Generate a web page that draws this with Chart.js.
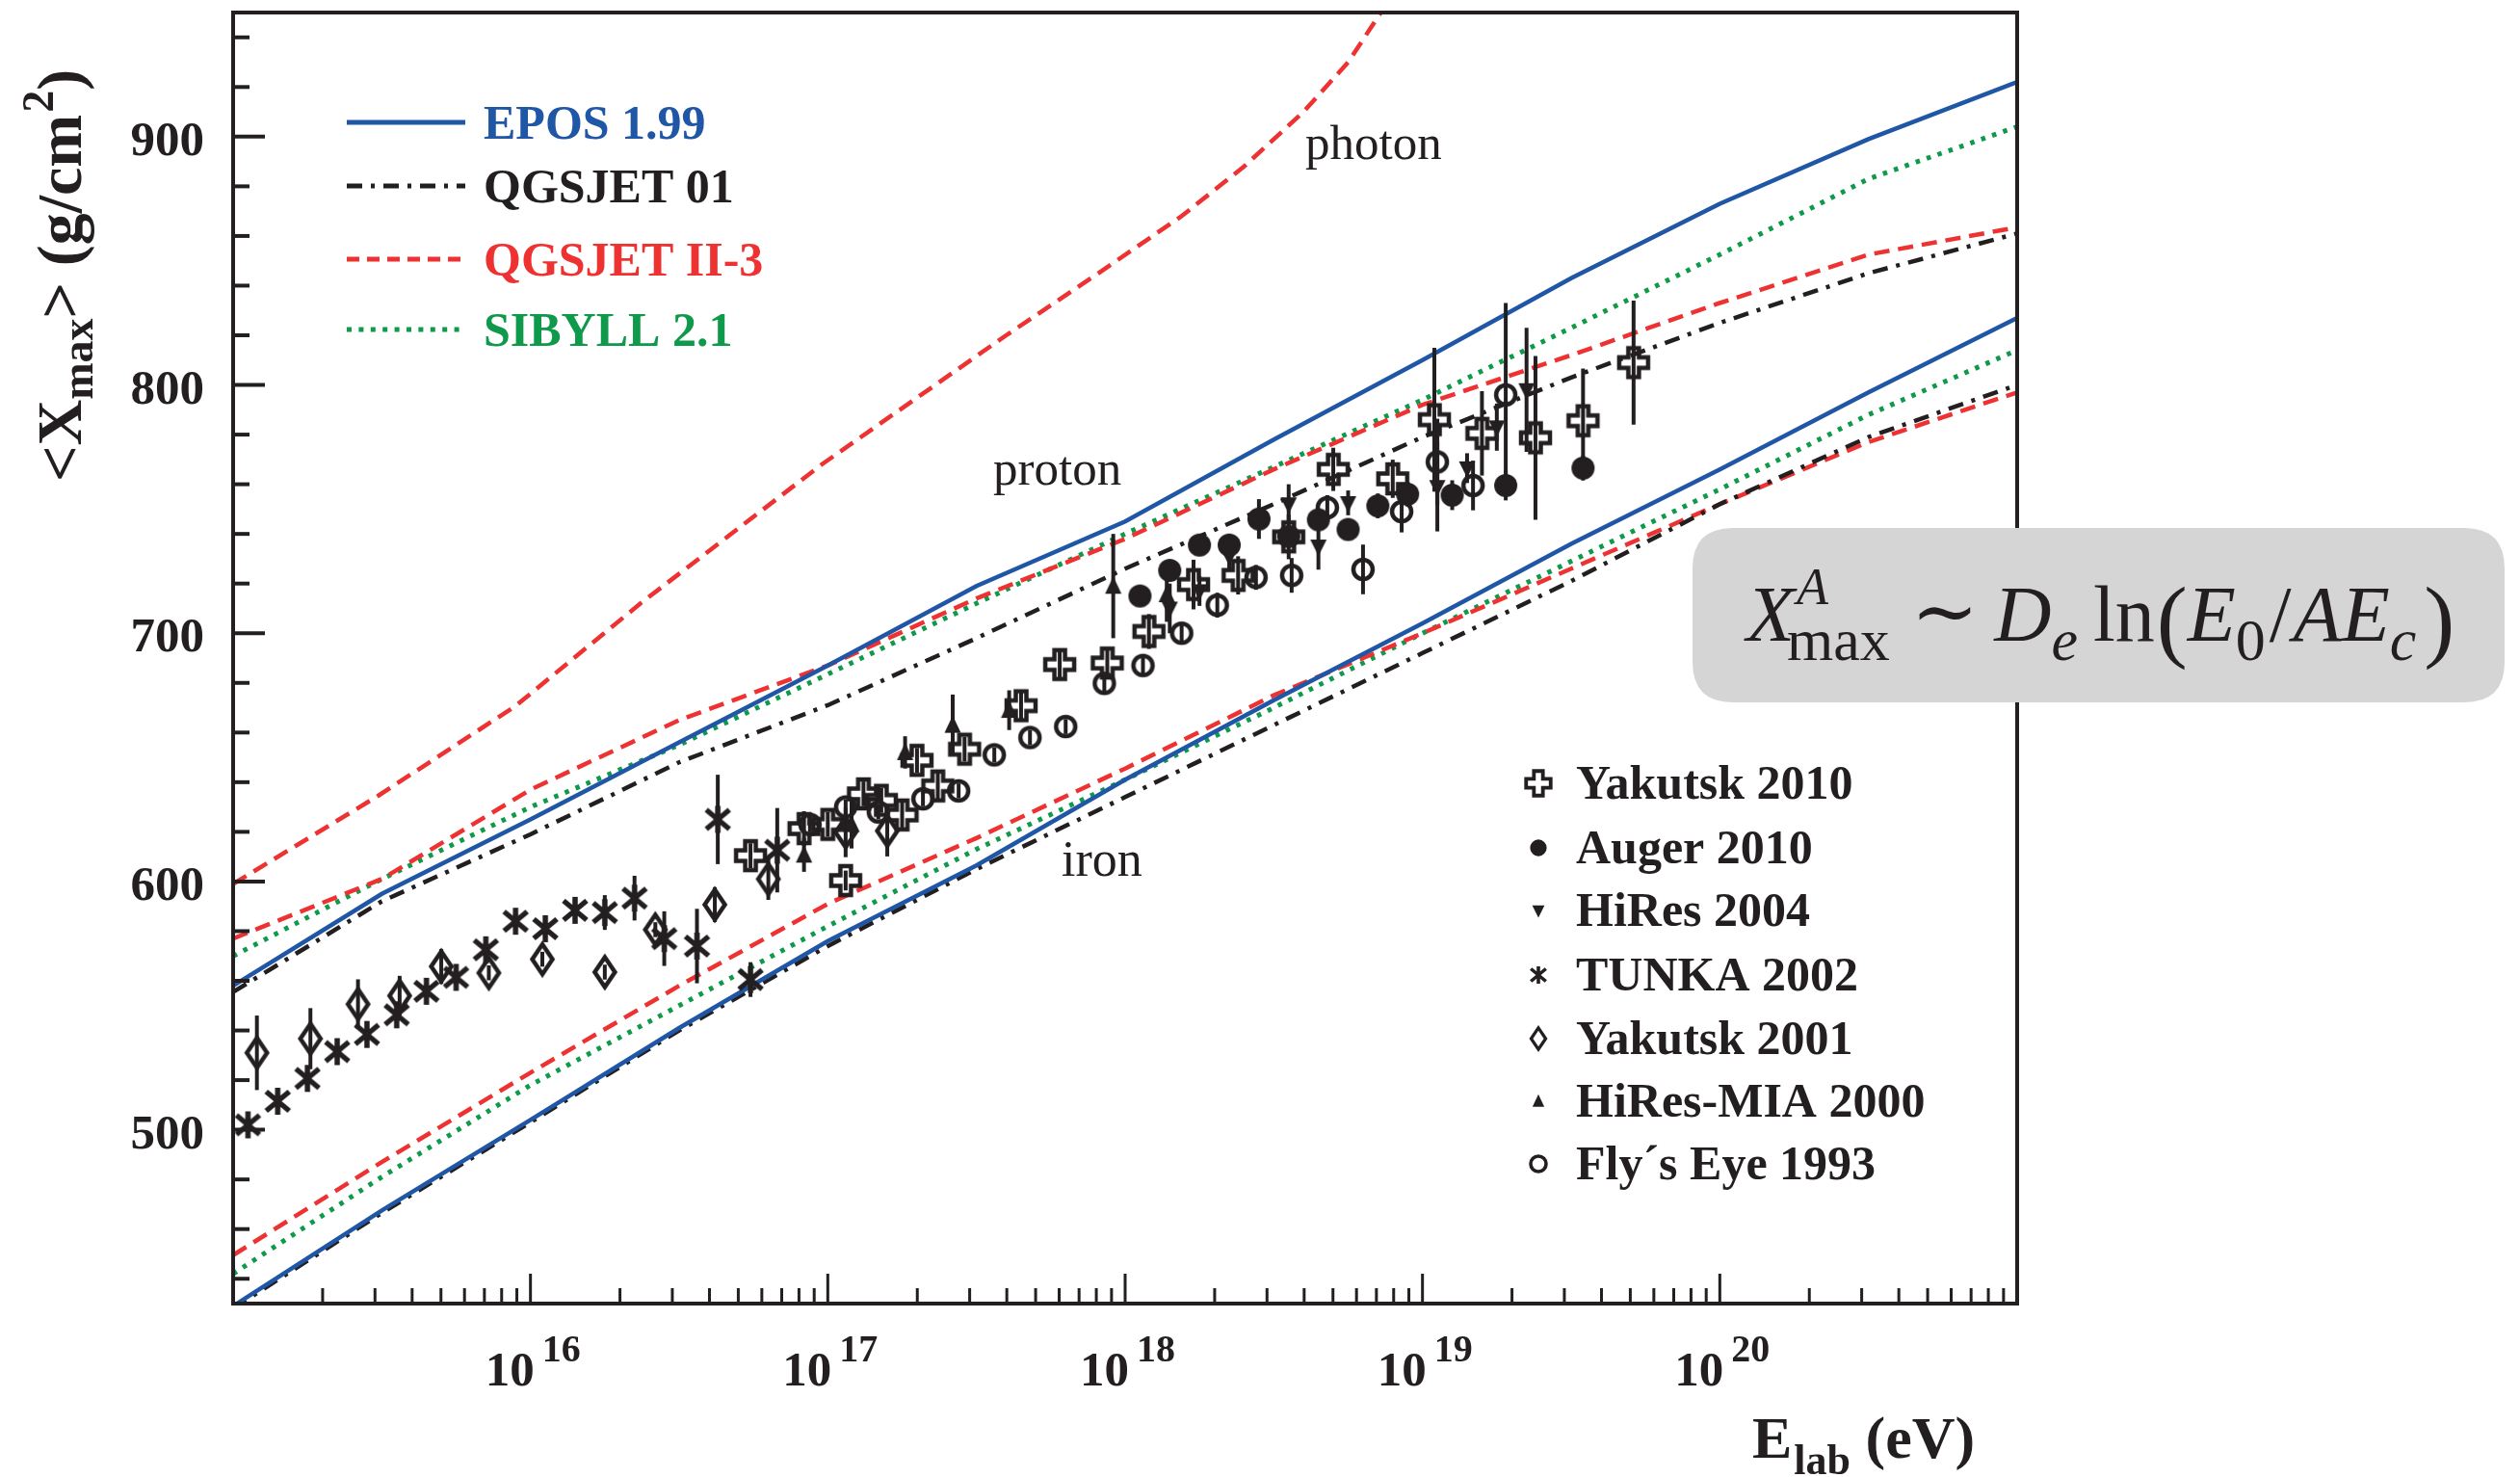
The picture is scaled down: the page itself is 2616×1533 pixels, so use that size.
<!DOCTYPE html>
<html>
<head>
<meta charset="utf-8">
<script src="https://cdn.jsdelivr.net/npm/chart.js@4.4.1/dist/chart.umd.min.js"></script>
<style>
  html, body { margin: 0; padding: 0; background: #ffffff; overflow: hidden; }
  #wrap { width: 2616px; height: 1533px; position: relative; }
</style>
</head>
<body>
<div id="wrap"><canvas id="c" width="2616" height="1533"></canvas></div>
<script>
// ---- model predictions: lg = log10(E_lab / eV), <Xmax> in g/cm^2 ----
const curveLg   = [15, 15.5, 16, 16.5, 17, 17.5, 18, 18.5, 19, 19.5, 20, 20.5, 21];
const eposP     = [558, 595, 625, 656, 687, 719, 745, 778, 810, 843, 873, 899, 922];
const eposFe    = [429, 467.5, 504, 541, 576, 606.5, 641, 673, 704, 736, 766, 797, 827];
const qgs01P    = [555.5, 592, 619, 648, 671, 698, 726, 752, 779, 803, 825, 845, 861];
const qgs01Fe   = [428, 466.5, 503, 540, 574, 605, 634, 663, 692, 721, 752, 779, 800];
const qgs2P     = [577, 601, 637, 665, 687, 714, 738, 766, 792, 812, 833, 852.5, 863.5];
const qgs2Fe    = [449.5, 487, 523, 558, 591, 617.5, 645.5, 675, 700, 726, 752, 777, 797];
const sibP      = [570, 601, 630, 655, 683.5, 712, 740, 767, 794, 823, 852.5, 883, 904];
const sibFe     = [442, 481, 518, 550, 582, 613, 641, 670, 700, 729, 758, 788, 814];
const photonLg  = [15, 15.49, 15.95, 16.37, 16.98, 17.6, 17.91, 18.19, 18.4, 18.6, 18.75, 18.86, 19.0];
const photonX   = [599, 634.7, 670.7, 712, 768, 820, 845, 868, 888, 910, 930, 950, 978];

// ---- measurements ----
const yak10Lg  = [16.74, 16.92, 17.00, 17.06, 17.12, 17.18, 17.25, 17.30, 17.37, 17.46, 17.65, 17.78, 17.94, 18.08, 18.23, 18.38, 18.55, 18.70, 18.90, 19.04, 19.20, 19.38, 19.54, 19.71];
const yak10X   = [610.4, 621.3, 623, 600.4, 635.3, 632.7, 626.8, 648.8, 638.5, 653.3, 670.8, 687.4, 688, 700.7, 719.6, 723.3, 738.8, 766, 762.2, 786, 780.5, 778.7, 785.6, 809];
const yak10Err = [5, 7, 5, 4, 5, 5, 6, 5, 6, 5, 6, 6, 6, 7, 10, 7.7, 9, 8.7, 7.7, 29, 17, 33, 21, 25];

const augerLg  = [18.05, 18.15, 18.25, 18.35, 18.45, 18.55, 18.65, 18.75, 18.85, 18.95, 19.10, 19.28, 19.54];
const augerX   = [715, 725.3, 735.5, 735.5, 746, 739, 745.7, 741.8, 751.3, 756, 755.6, 759.5, 766.5];
const augerErr = [3, 4, 4, 4, 8, 4, 4, 4, 5, 5, 6, 6, 5];

const hiresLg  = [18.15, 18.25, 18.35, 18.55, 18.65, 18.75, 19.05, 19.15, 19.25, 19.35];
const hiresX   = [710, 717, 731, 752, 735, 752.5, 759, 766.5, 783, 798];
const hiresErr = [10, 6, 6, 8, 9.4, 5, 18, 6, 9.5, 25];

const tunkaLg  = [15.05, 15.15, 15.25, 15.35, 15.45, 15.55, 15.65, 15.75, 15.85, 15.95, 16.05, 16.15, 16.25, 16.35, 16.45, 16.56, 16.63, 16.74, 16.83];
const tunkaX   = [502, 511.5, 520.7, 531.5, 538.4, 546.3, 555.8, 561.4, 572.5, 584, 581, 588.4, 587.5, 593.3, 577, 574, 625, 560.5, 612.6];
const tunkaErr = [3, 3, 3, 3, 3, 3, 3, 3, 3, 3, 4, 4, 7, 9, 11, 15, 18, 7, 17];

const yak01Lg  = [15.08, 15.26, 15.42, 15.56, 15.70, 15.86, 16.04, 16.25, 16.42, 16.62, 16.80, 17.06, 17.20];
const yak01X   = [531, 536.7, 550.6, 554, 565.8, 563.2, 568.7, 563.5, 580.6, 590.7, 601, 619.8, 620.4];
const yak01Err = [15, 12.3, 10, 8, 7, 3, 3, 3, 3, 7, 8.4, 10, 10.3];

const miaLg    = [16.92, 17.08, 17.26, 17.42, 17.61, 17.96, 18.14];
const miaX     = [610.7, 623, 652, 663, 669, 719, 715.6];
const miaErr   = [6.8, 9.7, 6.5, 12.3, 8, 21, 11];

const flyLg    = [16.94, 17.06, 17.17, 17.32, 17.44, 17.56, 17.68, 17.80, 17.93, 18.06, 18.19, 18.31, 18.44, 18.56, 18.68, 18.80, 18.93, 19.05, 19.17, 19.28];
const flyX     = [623, 630, 628, 633.3, 636.5, 651, 658, 662.4, 679.8, 687, 700, 711.3, 722.5, 723.3, 750.6, 725.7, 749, 769, 759.5, 796];
const flyErr   = [3, 3, 3, 3, 3, 3, 3, 3, 4, 4, 4, 5, 5, 7, 5, 10, 8.4, 17.4, 10, 37];

// ---- axis ticks and labels ----
const yMajorTicks = [500, 600, 700, 800, 900];
const xLabelDecades = [16, 17, 18, 19, 20];
const modelNames = ['EPOS 1.99', 'QGSJET 01', 'QGSJET II-3', 'SIBYLL 2.1'];
const dataNames = ['Yakutsk 2010', 'Auger 2010', 'HiRes 2004', 'TUNKA 2002', 'Yakutsk 2001', 'HiRes-MIA 2000', 'Fly\u00b4s Eye 1993'];

// ---- styling ----
const INK = '#231f20', BLUE = '#1f56a5', RED = '#ee3131', GREEN = '#0f994a';
const SERIF = '"Liberation Serif", "Nimbus Roman", "DejaVu Serif", serif';
const DASH_RED = [16, 9], DASH_DOT = [16, 9, 4, 9], DOTS = [4.5, 7.5];

function pts(lg, vals) { return lg.map((l, i) => ({ x: Math.pow(10, l), y: vals[i] })); }

// marker glyphs (open cross, full circle, triangles, star, open diamond, open circle)
function drawMarker(ctx, type, x, y, s) {
  ctx.save();
  ctx.translate(x, y);
  ctx.scale(s, s);
  ctx.strokeStyle = INK; ctx.fillStyle = INK; ctx.lineWidth = 4.5; ctx.lineJoin = 'miter';
  ctx.beginPath();
  switch (type) {
    case 'plus': {
      const a = 15, b = 5.5;
      ctx.moveTo(-b, -a); ctx.lineTo(b, -a); ctx.lineTo(b, -b); ctx.lineTo(a, -b); ctx.lineTo(a, b);
      ctx.lineTo(b, b); ctx.lineTo(b, a); ctx.lineTo(-b, a); ctx.lineTo(-b, b); ctx.lineTo(-a, b);
      ctx.lineTo(-a, -b); ctx.lineTo(-b, -b); ctx.closePath(); ctx.stroke(); break;
    }
    case 'dot': ctx.arc(0, 0, 12, 0, 2 * Math.PI); ctx.fill(); break;
    case 'tdown': ctx.moveTo(-8.5, -7); ctx.lineTo(8.5, -7); ctx.lineTo(0, 10); ctx.closePath(); ctx.fill(); break;
    case 'tup': ctx.moveTo(-8.5, 8); ctx.lineTo(8.5, 8); ctx.lineTo(0, -10); ctx.closePath(); ctx.fill(); break;
    case 'star':
      ctx.lineWidth = 5.5;
      ctx.moveTo(0, -14); ctx.lineTo(0, 14);
      ctx.moveTo(-12, -10); ctx.lineTo(12, 10);
      ctx.moveTo(-12, 10); ctx.lineTo(12, -10);
      ctx.stroke(); break;
    case 'diamond': ctx.moveTo(0, -15.5); ctx.lineTo(10.5, 0); ctx.lineTo(0, 15.5); ctx.lineTo(-10.5, 0); ctx.closePath(); ctx.stroke(); break;
    case 'ocircle': ctx.arc(0, 0, 10, 0, 2 * Math.PI); ctx.stroke(); break;
  }
  ctx.restore();
}
function markerCanvas(type) {
  const c = document.createElement('canvas');
  c.width = 46; c.height = 46;
  drawMarker(c.getContext('2d'), type, 23, 23, 1);
  return c;
}

function curve(lg, vals, color, dash, width) {
  return { data: pts(lg, vals), showLine: true, borderColor: color, borderWidth: width, borderDash: dash,
           pointRadius: 0, fill: false, tension: 0, order: 10 };
}
function measured(name, lg, vals, errs, type) {
  return { label: name, data: pts(lg, vals), errors: errs, showLine: false, pointStyle: markerCanvas(type),
           pointRadius: 12, order: 1 };
}

const datasets = [
  curve(curveLg, eposP, BLUE, [], 4.5),
  curve(curveLg, eposFe, BLUE, [], 4.5),
  curve(curveLg, qgs01P, INK, DASH_DOT, 4.5),
  curve(curveLg, qgs01Fe, INK, DASH_DOT, 4.5),
  curve(curveLg, qgs2P, RED, DASH_RED, 4.5),
  curve(curveLg, qgs2Fe, RED, DASH_RED, 4.5),
  curve(photonLg, photonX, RED, DASH_RED, 4.5),
  curve(curveLg, sibP, GREEN, DOTS, 5),
  curve(curveLg, sibFe, GREEN, DOTS, 5),
  measured(dataNames[6], flyLg, flyX, flyErr, 'ocircle'),
  measured(dataNames[5], miaLg, miaX, miaErr, 'tup'),
  measured(dataNames[4], yak01Lg, yak01X, yak01Err, 'diamond'),
  measured(dataNames[3], tunkaLg, tunkaX, tunkaErr, 'star'),
  measured(dataNames[2], hiresLg, hiresX, hiresErr, 'tdown'),
  measured(dataNames[1], augerLg, augerX, augerErr, 'dot'),
  measured(dataNames[0], yak10Lg, yak10X, yak10Err, 'plus')
];

function text(ctx, s, x, y, font, color, align) {
  ctx.font = font; ctx.fillStyle = color; ctx.textAlign = align || 'left'; ctx.textBaseline = 'alphabetic';
  ctx.fillText(s, x, y);
  return ctx.measureText(s).width;
}

const decorations = {
  id: 'decorations',
  beforeDatasetDraw(chart, args) {
    const ds = chart.data.datasets[args.index];
    if (!ds.errors) return;
    const { ctx, chartArea: a } = chart;
    const y = chart.scales.y;
    ctx.save();
    ctx.beginPath(); ctx.rect(a.left, a.top, a.right - a.left, a.bottom - a.top); ctx.clip();
    ctx.strokeStyle = INK; ctx.lineWidth = 4;
    args.meta.data.forEach((pt, i) => {
      const e = ds.errors[i];
      if (!e) return;
      const v = ds.data[i].y;
      ctx.beginPath();
      ctx.moveTo(pt.x, y.getPixelForValue(v - e));
      ctx.lineTo(pt.x, y.getPixelForValue(v + e));
      ctx.stroke();
    });
    ctx.restore();
  },
  afterDraw(chart) {
    const { ctx, chartArea: a } = chart;
    const xs = chart.scales.x, ys = chart.scales.y;
    ctx.save();

    // frame
    ctx.strokeStyle = INK; ctx.lineWidth = 4; ctx.setLineDash([]);
    ctx.strokeRect(a.left, a.top, a.right - a.left, a.bottom - a.top);

    // x ticks (inside, log minor ticks)
    ctx.lineWidth = 3;
    for (let d = 15; d <= 20; d++) {
      for (let m = 1; m <= 9; m++) {
        const px = xs.getPixelForValue(m * Math.pow(10, d));
        const len = m === 1 ? 31 : 16;
        ctx.beginPath(); ctx.moveTo(px, a.bottom); ctx.lineTo(px, a.bottom - len); ctx.stroke();
      }
    }
    // y ticks
    ctx.lineWidth = 4;
    for (let v = 440; v <= 940; v += 20) {
      const py = ys.getPixelForValue(v);
      const len = v % 100 === 0 ? 33 : 17;
      ctx.beginPath(); ctx.moveTo(a.left, py); ctx.lineTo(a.left + len, py); ctx.stroke();
    }

    // tick labels
    yMajorTicks.forEach(v => {
      text(ctx, String(v), a.left - 30, ys.getPixelForValue(v) + 19, 'bold 51px ' + SERIF, INK, 'right');
    });
    xLabelDecades.forEach(d => {
      const px = xs.getPixelForValue(Math.pow(10, d));
      text(ctx, '10', px + 4, 1438, 'bold 51px ' + SERIF, INK, 'right');
      text(ctx, String(d), px + 12, 1413, 'bold 40px ' + SERIF, INK, 'left');
    });

    // x axis title
    let tx = 1819;
    tx += text(ctx, 'E', tx, 1513, 'bold 62px ' + SERIF, INK);
    tx += 2;
    tx += text(ctx, 'lab', tx, 1530, 'bold 44px ' + SERIF, INK);
    text(ctx, ' (eV)', tx, 1513, 'bold 62px ' + SERIF, INK);

    // y axis title (rotated)
    ctx.save();
    ctx.translate(84, 500);
    ctx.rotate(-Math.PI / 2);
    let ty = 0;
    ty += text(ctx, '<X', ty, 0, 'bold 66px ' + SERIF, INK);
    ty += text(ctx, 'max', ty, 12, 'bold 46px ' + SERIF, INK);
    ty += text(ctx, '>', ty, 0, 'bold 66px ' + SERIF, INK);
    ty += text(ctx, ' (g/cm', ty, 0, 'bold 66px ' + SERIF, INK);
    ty += text(ctx, '2', ty + 2, -29, 'bold 46px ' + SERIF, INK) + 2;
    text(ctx, ')', ty, 0, 'bold 66px ' + SERIF, INK);
    ctx.restore();

    // model legend
    const modelColors = [BLUE, INK, RED, GREEN];
    const modelDash = [[], DASH_DOT, [13, 8], [5, 7.4]];
    const modelRowY = [127, 193, 269, 342];
    modelNames.forEach((n, i) => {
      ctx.strokeStyle = modelColors[i]; ctx.lineWidth = 5; ctx.setLineDash(modelDash[i]);
      ctx.beginPath(); ctx.moveTo(360, modelRowY[i]); ctx.lineTo(483, modelRowY[i]); ctx.stroke();
      ctx.setLineDash([]);
      text(ctx, n, 502, modelRowY[i] + 17, 'bold 50px ' + SERIF, modelColors[i]);
    });

    // data legend
    const legendTypes = ['plus', 'dot', 'tdown', 'star', 'diamond', 'tup', 'ocircle'];
    const legendScale = [0.85, 0.72, 0.75, 0.65, 0.72, 0.72, 0.8];
    const dataRowY = [813, 880, 945, 1012, 1078, 1143, 1208];
    dataNames.forEach((n, i) => {
      drawMarker(ctx, legendTypes[i], 1597, dataRowY[i], legendScale[i]);
      text(ctx, n, 1636, dataRowY[i] + 16, 'bold 50px ' + SERIF, INK);
    });

    // primary labels
    text(ctx, 'photon', 1355, 165, '51px ' + SERIF, INK);
    text(ctx, 'proton', 1031, 503, '51px ' + SERIF, INK);
    text(ctx, 'iron', 1102, 909, '52px ' + SERIF, INK);

    // formula box
    const bx = 1757, by = 548, bw = 843, bh = 181, r = 42;
    ctx.fillStyle = '#d5d5d5';
    ctx.beginPath();
    ctx.moveTo(bx + r, by); ctx.lineTo(bx + bw - r, by); ctx.quadraticCurveTo(bx + bw, by, bx + bw, by + r);
    ctx.lineTo(bx + bw, by + bh - r); ctx.quadraticCurveTo(bx + bw, by + bh, bx + bw - r, by + bh);
    ctx.lineTo(bx + r, by + bh); ctx.quadraticCurveTo(bx, by + bh, bx, by + bh - r);
    ctx.lineTo(bx, by + r); ctx.quadraticCurveTo(bx, by, bx + r, by);
    ctx.closePath(); ctx.fill();

    const base = 665;
    const IT = 'italic 82px ' + SERIF, RM = '82px ' + SERIF, SUBI = 'italic 62px ' + SERIF, SUBR = '62px ' + SERIF;
    let fx = 1813;
    const wX = text(ctx, 'X', fx, base, IT, INK);
    text(ctx, 'A', fx + wX + 2, base - 38, 'italic 54px ' + SERIF, INK);
    fx += wX - 8;
    fx += text(ctx, 'max', fx, base + 20, SUBR, INK) + 22;
    fx += text(ctx, '\u223c', fx, base - 2, '84px "DejaVu Serif", ' + SERIF, INK) + 16;
    fx += text(ctx, 'D', fx, base, IT, INK);
    fx += text(ctx, 'e', fx, base + 20, SUBI, INK) + 16;
    fx += text(ctx, 'ln', fx, base, RM, INK) + 2;
    fx += text(ctx, '(', fx, base + 10, '96px ' + SERIF, INK);
    fx += text(ctx, 'E', fx, base, IT, INK);
    fx += text(ctx, '0', fx, base + 20, SUBR, INK) + 4;
    fx += text(ctx, '/', fx, base, RM, INK) + 2;
    fx += text(ctx, 'A', fx, base, IT, INK);
    fx += text(ctx, 'E', fx, base, IT, INK);
    fx += text(ctx, 'c', fx, base + 20, SUBI, INK) + 8;
    text(ctx, ')', fx, base + 10, '96px ' + SERIF, INK);

    ctx.restore();
  }
};

new Chart(document.getElementById('c').getContext('2d'), {
  type: 'scatter',
  data: { datasets },
  options: {
    responsive: false,
    animation: false,
    devicePixelRatio: 1,
    layout: { padding: { left: 0, top: 11, right: 2616 - 2094, bottom: 0 } },
    plugins: { legend: { display: false }, tooltip: { enabled: false } },
    scales: {
      x: {
        type: 'logarithmic', min: 1e15, max: 1e21,
        ticks: { display: false }, grid: { display: false }, border: { display: false },
        afterFit(s) { s.height = 1533 - 1353; }
      },
      y: {
        type: 'linear', min: 430, max: 950,
        ticks: { display: false }, grid: { display: false }, border: { display: false },
        afterFit(s) { s.width = 242; }
      }
    }
  },
  plugins: [decorations]
});
</script>
</body>
</html>
